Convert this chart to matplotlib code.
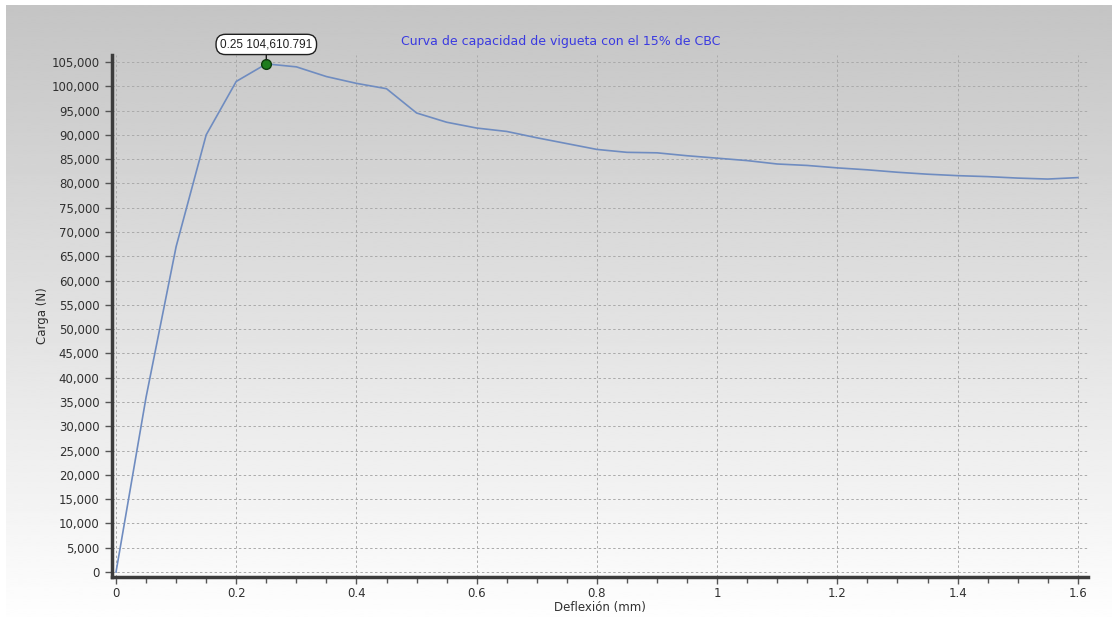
import numpy as np
import matplotlib
matplotlib.use("Agg")
import matplotlib.pyplot as plt
from matplotlib.ticker import MultipleLocator, FuncFormatter

# Load-deflection capacity curve of the joist
deflexion_mm = [0.00, 0.05, 0.10, 0.15, 0.20, 0.25, 0.30, 0.35, 0.40, 0.45,
                0.50, 0.55, 0.60, 0.65, 0.70, 0.75, 0.80, 0.85, 0.90, 0.95,
                1.00, 1.05, 1.10, 1.15, 1.20, 1.25, 1.30, 1.35, 1.40, 1.45,
                1.50, 1.55, 1.60]
carga_n = [0, 36000, 67000, 90000, 101000, 104610.791, 104000, 102000, 100600, 99500,
           94500, 92600, 91400, 90700, 89400, 88200, 87000, 86400, 86300, 85700,
           85200, 84700, 84000, 83700, 83200, 82800, 82300, 81900, 81600, 81400,
           81100, 80900, 81200]

peak_x = 0.25
peak_y = 104610.791

title = "Curva de capacidad de vigueta con el 15% de CBC"
xlabel = "Deflexión (mm)"
ylabel = "Carga (N)"

W, H, DPI = 1112, 617, 100
fig = plt.figure(figsize=(W / DPI, H / DPI), dpi=DPI)
fig.patch.set_facecolor("white")

# Vertical grey-to-white gradient behind the chart
bg = fig.add_axes([6 / W, 0, 1 - 6 / W, 1 - 5 / H], zorder=0)
grad = np.linspace(0.77, 0.995, 256).reshape(-1, 1)
bg.imshow(grad, aspect="auto", cmap="gray", vmin=0, vmax=1,
          extent=[0, 1, 1, 0], interpolation="bilinear")
bg.set_axis_off()

ax = fig.add_axes([112 / W, 1 - 577 / H, (1088 - 112) / W, (577 - 55) / H], zorder=1)
ax.patch.set_alpha(0)

ax.plot(deflexion_mm, carga_n, color="#6f8cc0", lw=1.2, zorder=3)
ax.plot([peak_x], [peak_y], "o", ms=7, mfc="#1e7d1e", mec="#0d3d0d", mew=1, zorder=4)

ax.set_xlim(-0.0067, 1.617)
ax.set_ylim(-1030, 106440)

ax.xaxis.set_major_locator(MultipleLocator(0.2))
ax.xaxis.set_minor_locator(MultipleLocator(0.05))
ax.yaxis.set_major_locator(MultipleLocator(5000))

def fmt_x(v, pos):
    s = f"{v:.1f}"
    return s[:-2] if s.endswith(".0") else s

ax.xaxis.set_major_formatter(FuncFormatter(fmt_x))
ax.yaxis.set_major_formatter(FuncFormatter(lambda v, p: f"{int(round(v)):,}"))

for side in ("top", "right"):
    ax.spines[side].set_visible(False)
for side in ("left", "bottom"):
    ax.spines[side].set_color("#3c3c3c")
    ax.spines[side].set_linewidth(2.5)

ax.tick_params(axis="both", which="major", direction="out", length=5, width=1,
               color="#555555", labelcolor="#303030", labelsize=8.5)
ax.tick_params(axis="x", which="minor", direction="out", length=4, width=1, color="#555555")
ax.tick_params(axis="x", which="major", pad=2)
ax.tick_params(axis="y", which="major", pad=4)

ax.grid(True, which="major", color="#aaaaaa", lw=0.7, ls=(0, (2.5, 2.5)))
ax.set_axisbelow(True)

ax.set_xlabel(xlabel, fontsize=8.5, color="#303030", labelpad=1)
ax.set_ylabel(ylabel, fontsize=8.5, color="#303030", labelpad=2)

fig.text(561 / W, 1 - 41 / H, title, ha="center", va="center",
         fontsize=9, color="#3a3ae0")

# Value tag above the peak
ax.annotate(f"{peak_x} {peak_y:,.3f}", xy=(peak_x, peak_y), xytext=(0, 14),
            textcoords="offset points", ha="center", va="center",
            fontsize=8.5, color="#202020", family="Liberation Sans",
            bbox=dict(boxstyle="round,pad=0.35,rounding_size=0.8", fc="white",
                      ec="#202020", lw=1),
            arrowprops=dict(arrowstyle="-", color="#202020", lw=1,
                            shrinkA=0, shrinkB=3),
            zorder=5, annotation_clip=False)

fig.savefig("out.png", dpi=DPI)
